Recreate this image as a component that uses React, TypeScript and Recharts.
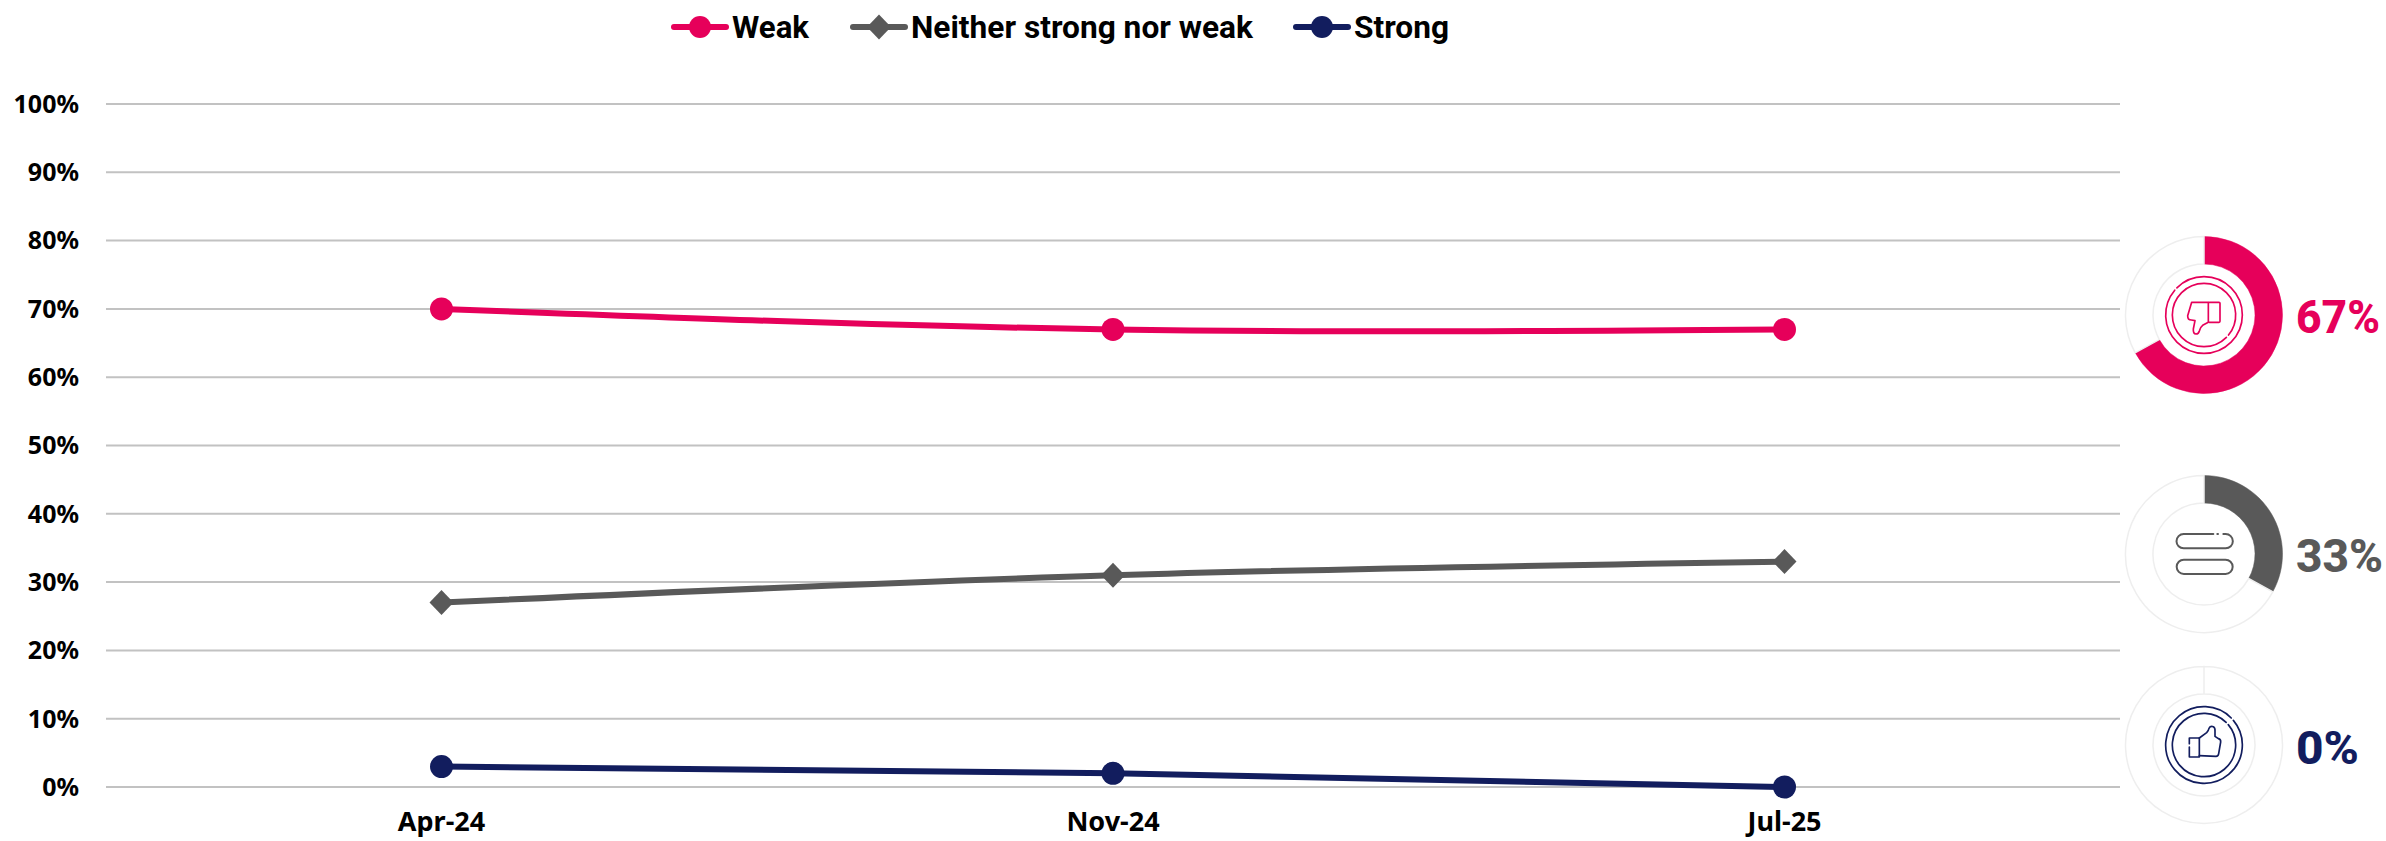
import { CartesianGrid, Cell, Legend, Line, LineChart, Pie, PieChart, XAxis, YAxis } from 'recharts'

const PINK = '#e6005a'
const GREY = '#595959'
const NAVY = '#121d5e'

const periods = ['Apr-24', 'Nov-24', 'Jul-25']
const weak = [70, 67, 67]
const neither = [27, 31, 33]
const strong = [3, 2, 0]
const yTicks = [0, 10, 20, 30, 40, 50, 60, 70, 80, 90, 100]
const latestShares = [67, 33, 0]

const rows = periods.map((period, i) => ({
  period,
  Weak: weak[i],
  'Neither strong nor weak': neither[i],
  Strong: strong[i],
}))

const tickFont = '"Noto Sans", sans-serif'
const legendFont = 'Roboto, sans-serif'

function Diamond({ cx, cy }: any) {
  return <path d={`M${cx} ${cy - 12.5}L${cx + 12} ${cy}L${cx} ${cy + 12.5}L${cx - 12} ${cy}Z`} fill={GREY} />
}

// hand placed legend, same spots as the slide
const legendSlots: Record<string, { x: number; width: number }> = {
  Weak: { x: 672, width: 77 },
  'Neither strong nor weak': { x: 851, width: 342 },
  Strong: { x: 1294, width: 95 },
}

function ChartLegend({ payload }: any) {
  return (
    <svg width={1600} height={60} style={{ display: 'block' }}>
      {(payload ?? []).map((entry: any) => {
        const slot = legendSlots[entry.value]
        if (!slot) return null
        const mid = slot.x + 28
        return (
          <g key={entry.value}>
            <line x1={slot.x + 2} x2={slot.x + 54} y1={27} y2={27} stroke={entry.color} strokeWidth={6} strokeLinecap="round" />
            {entry.value === 'Neither strong nor weak' ? (
              <Diamond cx={mid} cy={27} />
            ) : (
              <circle cx={mid} cy={27} r={11} fill={entry.color} />
            )}
            <text
              x={slot.x + 60}
              y={37.5}
              fontFamily={legendFont}
              fontWeight={700}
              fontSize={31}
              textLength={slot.width}
              lengthAdjust="spacingAndGlyphs"
              fill="#000"
            >
              {entry.value}
            </text>
          </g>
        )
      })}
    </svg>
  )
}

function Rings({ color, outerTurn, innerTurn }: { color: string; outerTurn: number; innerTurn: number }) {
  return (
    <>
      <circle r={115} fill="none" stroke={color} strokeWidth={5} pathLength={100} strokeDasharray="98.6 1.4" transform={`rotate(${outerTurn})`} />
      <circle r={95} fill="none" stroke={color} strokeWidth={5} pathLength={100} strokeDasharray="98.4 1.6" transform={`rotate(${innerTurn})`} />
    </>
  )
}

function ThumbDown() {
  return (
    <g fill="none" stroke={PINK} strokeWidth={5} strokeLinejoin="round" strokeLinecap="round">
      <Rings color={PINK} outerTurn={225} innerTurn={45} />
      <rect x={13} y={-38} width={35} height={60} rx={3} />
      <path d="M13 -38L-37 -38L-49 2Q-49 15 -38 15L-27 17L-32 42Q-33 57 -24 57Q-16 57 -14 48Q-12 37 -4 31L13 22" />
    </g>
  )
}

function Neutral() {
  return (
    <g fill="none" stroke={GREY} strokeWidth={6} strokeLinecap="round">
      <path d="M28 -60L-61 -60A21.5 21.5 0 0 0 -61 -17L65 -17A21.5 21.5 0 0 0 65 -60L58 -60" />
      <path d="M40 -60L42 -60" />
      <rect x={-82} y={17} width={168} height={43} rx={21.5} />
    </g>
  )
}

function ThumbUp() {
  return (
    <g fill="none" stroke={NAVY} strokeWidth={5} strokeLinejoin="round" strokeLinecap="round">
      <Rings color={NAVY} outerTurn={-40} innerTurn={-40} />
      <path d="M-14 36L-14 -21L-44 -21L-44 -4M-44 6L-44 36L-14 36" />
      <path d="M-14 -21L8 -37Q13 -42 15 -50Q19 -58 28 -55Q34 -52 33 -42L33 -26L43 -19Q51 -17 50 -9L44 26Q43 34 36 34L-14 32" />
    </g>
  )
}

const donuts = [
  { top: 314.5, color: PINK, share: latestShares[0], Icon: ThumbDown, baseline: 333, textWidth: 84 },
  { top: 553.5, color: GREY, share: latestShares[1], Icon: Neutral, baseline: 572, textWidth: 87 },
  { top: 745, color: NAVY, share: latestShares[2], Icon: ThumbUp, baseline: 764, textWidth: 63 },
]

const donutX = 2204

function Donut({ top, color, share, Icon, baseline, textWidth }: (typeof donuts)[number]) {
  const size = 170
  const slices = [{ value: share }, { value: 100 - share }]
  return (
    <>
      <div style={{ position: 'absolute', left: donutX - size / 2, top: top - size / 2 }}>
        <PieChart width={size} height={size} margin={{ top: 0, right: 0, bottom: 0, left: 0 }}>
          <Pie
            data={slices}
            dataKey="value"
            cx="50%"
            cy="50%"
            innerRadius={51}
            outerRadius={78.5}
            startAngle={90}
            endAngle={-270}
            isAnimationActive={false}
          >
            <Cell fill={color} stroke={color} strokeWidth={0.5} />
            <Cell fill="#fff" stroke="#eeeeee" strokeWidth={1.5} />
          </Pie>
        </PieChart>
      </div>
      <svg
        width={102}
        height={102}
        viewBox="-153 -153 306 306"
        style={{ position: 'absolute', left: donutX - 51, top: top - 51 }}
      >
        <Icon />
      </svg>
      <svg width={93} height={60} style={{ position: 'absolute', left: 2293, top: baseline - 50 }}>
        <text
          x={3}
          y={50}
          fontFamily={legendFont}
          fontWeight={800}
          fontSize={47}
          textLength={textWidth}
          lengthAdjust="spacingAndGlyphs"
          fill={color}
        >
          {share}%
        </text>
      </svg>
    </>
  )
}

export default function App() {
  return (
    <div style={{ position: 'absolute', left: 0, top: 0, width: 2386, height: 841, background: '#fff', overflow: 'hidden' }}>
      <LineChart width={2386} height={841} data={rows} margin={{ top: 104, right: 266, bottom: 0, left: 6 }}>
        <CartesianGrid vertical={false} stroke="#c2c2c2" strokeWidth={2} />
        <XAxis
          dataKey="period"
          scale="point"
          padding={{ left: 335.5, right: 335.5 }}
          height={54}
          axisLine={false}
          tickLine={false}
          tickSize={0}
          tickMargin={25}
          interval={0}
          tick={{ fill: '#000', fontFamily: tickFont, fontWeight: 700, fontSize: 27 }}
        />
        <YAxis
          width={100}
          domain={[0, 100]}
          ticks={yTicks}
          interval={0}
          axisLine={false}
          tickLine={false}
          tickSize={0}
          tickMargin={27}
          tickFormatter={(v) => `${v}%`}
          tick={{ fill: '#000', fontFamily: tickFont, fontWeight: 700, fontSize: 25 }}
        />
        <Legend
          content={<ChartLegend />}
          layout="horizontal"
          verticalAlign="middle"
          align="center"
          wrapperStyle={{ position: 'absolute', top: 0, left: 0, width: 1600, height: 60 }}
        />
        <Line
          type="natural"
          dataKey="Weak"
          stroke={PINK}
          strokeWidth={6}
          dot={{ r: 11.5, fill: PINK, stroke: PINK, strokeWidth: 0 }}
          isAnimationActive={false}
        />
        <Line
          type="natural"
          dataKey="Neither strong nor weak"
          stroke={GREY}
          strokeWidth={6}
          dot={(p: any) => <Diamond key={p.index} cx={p.cx} cy={p.cy} />}
          isAnimationActive={false}
        />
        <Line
          type="natural"
          dataKey="Strong"
          stroke={NAVY}
          strokeWidth={6}
          dot={{ r: 11.5, fill: NAVY, stroke: NAVY, strokeWidth: 0 }}
          isAnimationActive={false}
        />
      </LineChart>
      {donuts.map((d) => (
        <Donut key={d.share} {...d} />
      ))}
    </div>
  )
}
